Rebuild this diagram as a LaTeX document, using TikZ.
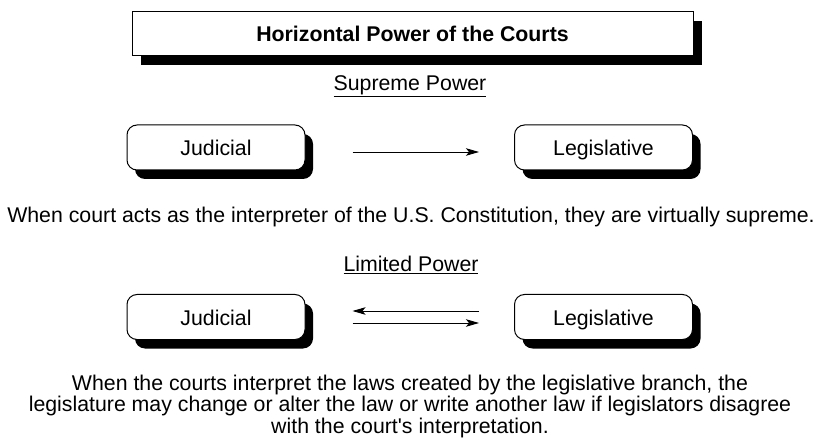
\documentclass[tikz,border=0pt]{standalone}
\usepackage{fontspec}
\setmainfont{Liberation Sans}
\usetikzlibrary{arrows.meta,shadows}

\begin{document}
\begin{tikzpicture}[x=1pt, y=-1pt,
    font=\fontsize{21.3}{21.5}\selectfont,
    branch/.style={draw, line width=1pt, fill=white, rounded corners=10pt,
        minimum width=178pt, minimum height=45pt, inner sep=0pt,
        text height=21pt, text depth=4pt,
        general shadow={fill=black, shadow xshift=8pt, shadow yshift=-9pt}},
    link/.style={line width=0.9pt, -{Stealth[length=13pt, width=7.5pt, inset=3pt]}}]
            \useasboundingbox (0,0) rectangle (821,443);

            \node[draw, line width=1pt, fill=white, minimum width=561pt, minimum height=44pt,
                general shadow={fill=black, shadow xshift=9pt, shadow yshift=-9pt}]
                (T) at (412.5,34) {\bfseries Horizontal Power of the Courts};

            \node (S) at (410,86) {\underline{Supreme Power}};
            \node[branch] (J1) at (216,147.5) {Judicial};
            \node[branch] (L1) at (603.5,147.5) {Legislative};
            \node (C1) at (411,217) {When court acts as the interpreter of the U.S. Constitution, they are virtually supreme.};

            \node (P) at (411,265) {\underline{Limited Power}};
            \node[branch] (J2) at (216,317) {Judicial};
            \node[branch] (L2) at (603.5,317) {Legislative};
            \node[align=center] (C2) at (410,406) {When the courts interpret the laws created by the legislative branch, the\\
                legislature may change or alter the law or write another law if legislators disagree\\
                with the court\textquotesingle s interpretation.};

            \draw[link, shorten <=47pt, shorten >=35pt] ([yshift=-4.5pt]J1.east) -- ([yshift=-4.5pt]L1.west);
            \draw[link, shorten <=35pt, shorten >=47pt] ([yshift=6pt]L2.west) -- ([yshift=6pt]J2.east);
            \draw[link, shorten <=47pt, shorten >=35pt] ([yshift=-6pt]J2.east) -- ([yshift=-6pt]L2.west);
        \end{tikzpicture}
\end{document}
